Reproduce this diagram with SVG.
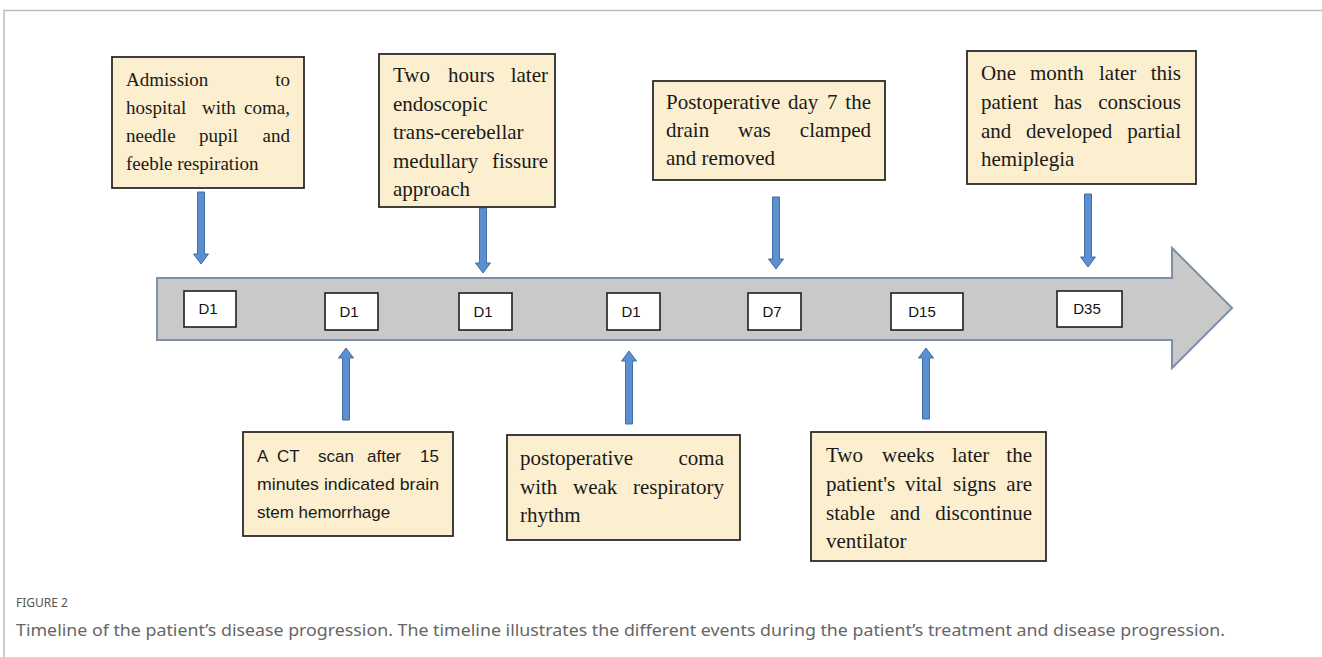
<svg xmlns="http://www.w3.org/2000/svg" width="1322" height="657" viewBox="0 0 1322 657">
<style>
.box{fill:#fcefcf;stroke:#2b2b2b;stroke-width:1.8}
.st{font-family:"Liberation Serif","Times New Roman",serif;font-size:21px;fill:#1a1a1a}
.sa{font-family:"Liberation Serif","Times New Roman",serif;font-size:19px;fill:#1a1a1a}
.ss{font-family:"Liberation Sans",Arial,sans-serif;font-size:17px;fill:#1a1a1a}
.day{fill:#ffffff;stroke:#1f1f1f;stroke-width:1.6}
.dt{font-family:"Liberation Sans",Arial,sans-serif;font-size:15px;fill:#111;text-anchor:middle}
.arr{fill:#5b8fd0;stroke:#3f6fa5;stroke-width:1}
.e{text-anchor:end}
</style>
<rect x="0" y="0" width="1322" height="657" fill="#ffffff"/>
<path d="M4,657 V10.5 H1322" fill="none" stroke="#bdbdbd" stroke-width="1.5"/>

<g id="timeline">
<path d="M157,278 H1172 V248 L1232,308 L1172,368 V340 H157 Z" fill="#c9c9c9" stroke="#7d90a8" stroke-width="2"/>
</g>

<g id="d1a"><rect class="day" x="184" y="291" width="52" height="36"/><text class="dt" x="208" y="314">D1</text></g>
<g id="d1b"><rect class="day" x="325" y="293" width="53" height="37"/><text class="dt" x="349" y="317">D1</text></g>
<g id="d1c"><rect class="day" x="459" y="293" width="53" height="37"/><text class="dt" x="483" y="317">D1</text></g>
<g id="d1d"><rect class="day" x="607" y="293" width="53" height="37"/><text class="dt" x="631" y="317">D1</text></g>
<g id="d7"><rect class="day" x="748" y="293" width="53" height="37"/><text class="dt" x="772" y="317">D7</text></g>
<g id="d15"><rect class="day" x="891" y="293" width="72" height="37"/><text class="dt" x="922" y="317">D15</text></g>
<g id="d35"><rect class="day" x="1057" y="291" width="65" height="36"/><text class="dt" x="1087" y="314">D35</text></g>

<g id="connectors">
<path class="arr" d="M197.5,192 H204.5 V254 H208.5 L201,264 L193.5,254 H197.5 Z"/>
<path class="arr" d="M479.5,208 H486.5 V263 H490.5 L483,273 L475.5,263 H479.5 Z"/>
<path class="arr" d="M772.5,197 H779.5 V259 H783.5 L776,269 L768.5,259 H772.5 Z"/>
<path class="arr" d="M1084.5,194 H1091.5 V257 H1095.5 L1088,267 L1080.5,257 H1084.5 Z"/>
<path class="arr" d="M342.5,420 H349.5 V358 H353.5 L346,348 L338.5,358 H342.5 Z"/>
<path class="arr" d="M625.5,424 H632.5 V361 H636.5 L629,351 L621.5,361 H625.5 Z"/>
<path class="arr" d="M922.5,419 H929.5 V358 H933.5 L926,348 L918.5,358 H922.5 Z"/>
</g>

<g id="admission">
<rect class="box" x="112" y="57" width="192" height="131"/>
<text class="sa" y="86"><tspan x="126">Admission</tspan><tspan class="e" x="290">to</tspan></text>
<text class="sa" y="114"><tspan x="126">hospital</tspan><tspan x="202">with</tspan><tspan class="e" x="290">coma,</tspan></text>
<text class="sa" y="142"><tspan x="126">needle</tspan><tspan x="199">pupil</tspan><tspan class="e" x="290">and</tspan></text>
<text class="sa" y="170" x="126">feeble respiration</text>
</g>

<g id="surgery">
<rect class="box" x="379" y="54" width="176" height="153"/>
<text class="st" y="82"><tspan x="393">Two</tspan><tspan x="448">hours</tspan><tspan class="e" x="548">later</tspan></text>
<text class="st" y="111" x="393">endoscopic</text>
<text class="st" y="139" x="393">trans-cerebellar</text>
<text class="st" y="168"><tspan x="393">medullary</tspan><tspan class="e" x="548">fissure</tspan></text>
<text class="st" y="196" x="393">approach</text>
</g>

<g id="drain">
<rect class="box" x="653" y="81" width="232" height="99"/>
<text class="st" y="109"><tspan x="666">Postoperative</tspan><tspan x="788">day</tspan><tspan x="827">7</tspan><tspan class="e" x="871">the</tspan></text>
<text class="st" y="137"><tspan x="666">drain</tspan><tspan x="738">was</tspan><tspan class="e" x="871">clamped</tspan></text>
<text class="st" y="165" x="666">and removed</text>
</g>

<g id="month">
<rect class="box" x="967" y="51" width="229" height="133"/>
<text class="st" y="80"><tspan x="981">One</tspan><tspan x="1030">month</tspan><tspan x="1099">later</tspan><tspan class="e" x="1181">this</tspan></text>
<text class="st" y="109"><tspan x="981">patient</tspan><tspan x="1054">has</tspan><tspan class="e" x="1181">conscious</tspan></text>
<text class="st" y="138"><tspan x="981">and</tspan><tspan x="1026">developed</tspan><tspan class="e" x="1181">partial</tspan></text>
<text class="st" y="166" x="981">hemiplegia</text>
</g>

<g id="ctscan">
<rect class="box" x="243" y="432" width="210" height="104"/>
<text class="ss" y="462"><tspan x="257">A</tspan><tspan x="277">CT</tspan><tspan x="318">scan</tspan><tspan x="367">after</tspan><tspan class="e" x="439">15</tspan></text>
<text class="ss" y="490" x="257" textLength="182" lengthAdjust="spacingAndGlyphs">minutes indicated brain</text>
<text class="ss" y="518" x="257">stem hemorrhage</text>
</g>

<g id="postop">
<rect class="box" x="507" y="435" width="233" height="105"/>
<text class="st" y="465"><tspan x="520">postoperative</tspan><tspan class="e" x="724">coma</tspan></text>
<text class="st" y="494"><tspan x="520">with</tspan><tspan x="573">weak</tspan><tspan class="e" x="724">respiratory</tspan></text>
<text class="st" y="522" x="520">rhythm</text>
</g>

<g id="twoweeks">
<rect class="box" x="811" y="432" width="235" height="129"/>
<text class="st" y="462"><tspan x="826">Two</tspan><tspan x="882">weeks</tspan><tspan x="952">later</tspan><tspan class="e" x="1032">the</tspan></text>
<text class="st" y="491"><tspan x="826">patient's</tspan><tspan x="905">vital</tspan><tspan x="953">signs</tspan><tspan class="e" x="1032">are</tspan></text>
<text class="st" y="520"><tspan x="826">stable</tspan><tspan x="890">and</tspan><tspan class="e" x="1032">discontinue</tspan></text>
<text class="st" y="548" x="826">ventilator</text>
</g>

<g id="caption">
<text x="16" y="607" font-family="'Noto Sans','Open Sans',sans-serif" font-size="12" fill="#555555">FIGURE 2</text>
<text x="16" y="636" font-family="'Noto Sans','Open Sans',sans-serif" font-size="16" fill="#666666" textLength="1209" lengthAdjust="spacingAndGlyphs">Timeline of the patient’s disease progression. The timeline illustrates the different events during the patient’s treatment and disease progression.</text>
</g>
</svg>
